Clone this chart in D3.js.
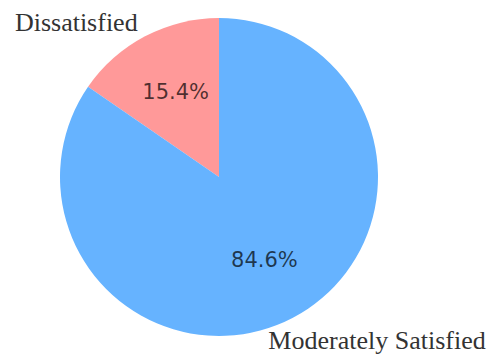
<!DOCTYPE html>
<html>
<head>
<meta charset="utf-8">
<script src="https://cdn.jsdelivr.net/npm/d3@7"></script>
<style>
  html, body { margin: 0; padding: 0; background: #fff; }
  svg { display: block; }
</style>
</head>
<body>
<svg id="chart" width="492" height="358"></svg>
<script>
// Satisfaction breakdown
const categories = ["Dissatisfied", "Moderately Satisfied"];
const values = [15.4, 84.6];
const colors = ["#ff9999", "#66b3ff"];

const width = 492, height = 358;
const cx = 219, cy = 177, radius = 159;

const svg = d3.select("#chart");
const g = svg.append("g").attr("transform", `translate(${cx},${cy})`);

const data = categories.map((c, i) => ({ label: c, value: values[i], color: colors[i] }));

// Slices run counter-clockwise starting at 12 o'clock
const pie = d3.pie()
  .value(d => d.value)
  .sort(null)
  .startAngle(0)
  .endAngle(-2 * Math.PI);

const arcs = pie(data);
const arc = d3.arc().innerRadius(0).outerRadius(radius);

g.selectAll("path.slice")
  .data(arcs)
  .join("path")
  .attr("class", "slice")
  .attr("d", arc)
  .attr("fill", d => d.data.color);

// Percentage labels at 0.6 of the radius
const pctArc = d3.arc().innerRadius(radius * 0.6).outerRadius(radius * 0.6);
g.selectAll("text.pct")
  .data(arcs)
  .join("text")
  .attr("class", "pct")
  .attr("x", d => pctArc.centroid(d)[0] + 1)
  .attr("y", d => pctArc.centroid(d)[1] - 1)
  .attr("text-anchor", "middle")
  .attr("dominant-baseline", "central")
  .attr("font-family", "DejaVu Sans, sans-serif")
  .attr("font-size", 21)
  .attr("fill", "#000")
  .attr("fill-opacity", 0.7)
  .text(d => d.data.value.toFixed(1) + "%");

// Category labels just outside the rim
const labelArc = d3.arc().innerRadius(radius * 1.1).outerRadius(radius * 1.1);
g.selectAll("text.cat")
  .data(arcs)
  .join("text")
  .attr("class", "cat")
  .attr("x", d => {
    const x = labelArc.centroid(d)[0];
    return x < 0 ? x : x - 32;
  })
  .attr("y", d => {
    const y = labelArc.centroid(d)[1];
    return y < 0 ? y + 9 : y + 17;
  })
  .attr("text-anchor", d => labelArc.centroid(d)[0] < 0 ? "end" : "start")
  .attr("font-family", "Liberation Serif, Times New Roman, serif")
  .attr("font-size", 26)
  .attr("fill", "#333")
  .text(d => d.data.label);
</script>
</body>
</html>
